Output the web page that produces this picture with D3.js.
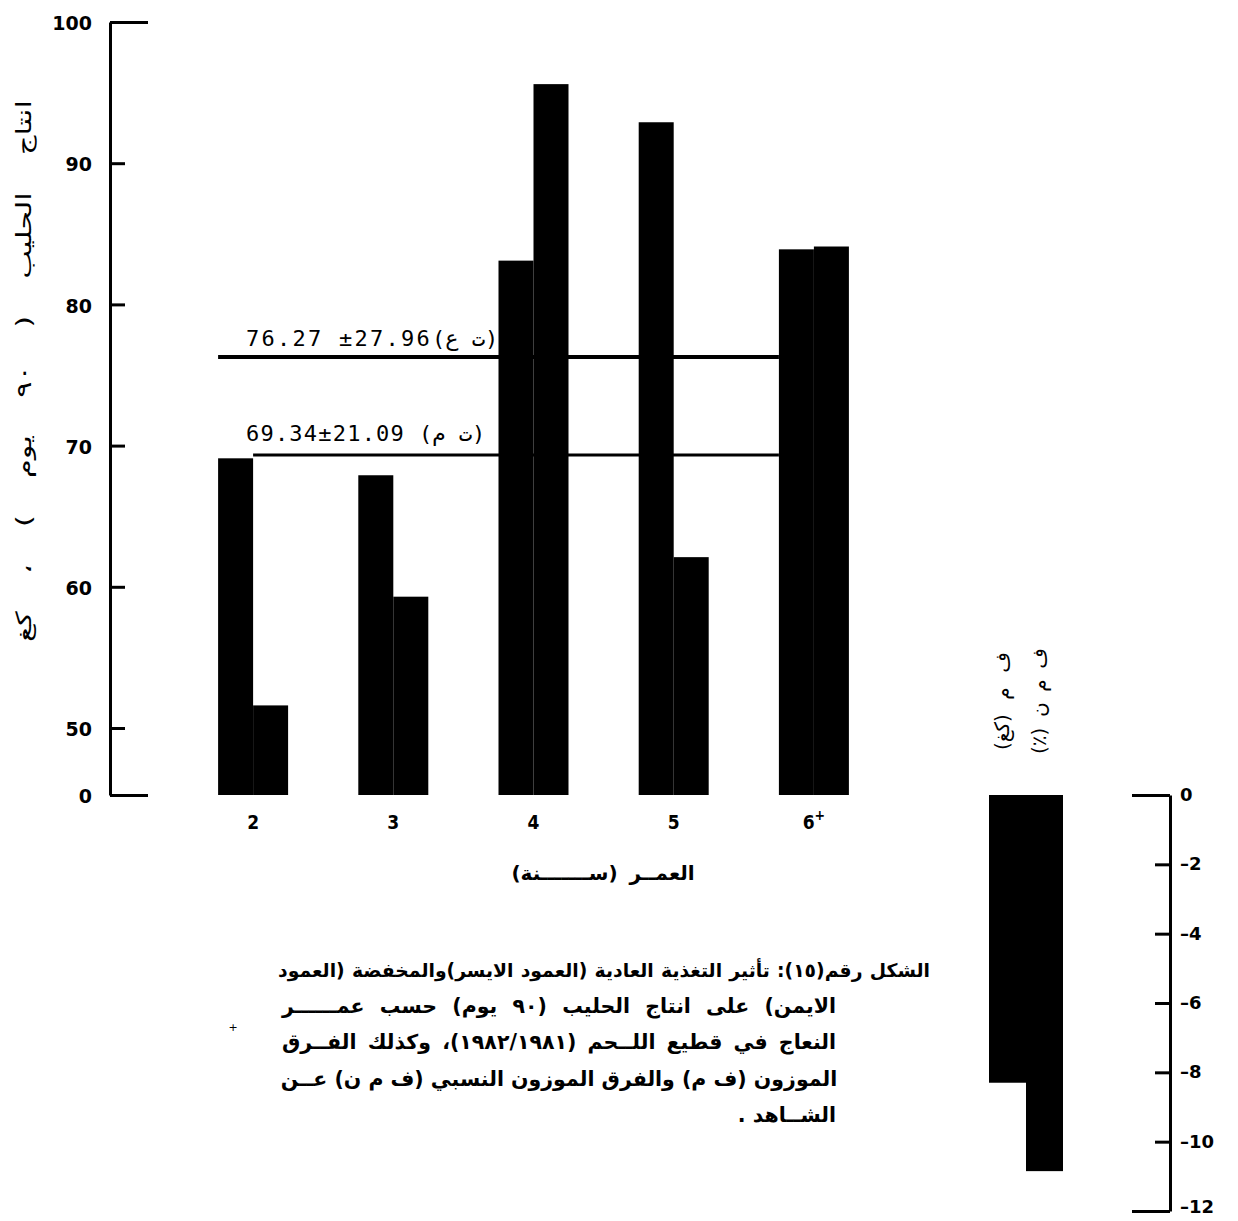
<!DOCTYPE html>
<html>
<head>
<meta charset="utf-8">
<script src="https://cdn.jsdelivr.net/npm/d3@7"></script>
<style>
  body { margin: 0; background: #fff; }
  svg { display: block; }
</style>
</head>
<body>
<svg id="chart" width="1238" height="1221"></svg>
<script>
// ---------------- DATA ----------------
const ages = ["2", "3", "4", "5", "6+"];
const normalFeed = [69.1, 67.9, 83.1, 92.9, 83.9];    // left bar of each pair
const reducedFeed = [51.6, 59.3, 95.6, 62.1, 84.1];   // right bar of each pair
const yTicks = [0, 50, 60, 70, 80, 90, 100];
const meanValues = [76.27, 69.34];
const meanNumbers = ["76.27 ±27.96", "69.34±21.09"];
const meanTags = ["(ت ع)", "(ت م)"];

const diffCategories = ["ف م  (كغ)", "ف م ن (٪)"];
const diffValues = [-8.3, -10.85];
const diffTicks = [0, -2, -4, -6, -8, -10, -12];

const yTitle = "انتاج الحليب ( ٩٠ يوم ) ، كغ";
const xTitle = "العمــر  (ســـــــنة)";
const captionLines = [
  "الشكل رقم(١٥): تأثير التغذية العادية (العمود الايسر)والمخفضة (العمود",
  "الايمن) على انتاج الحليب (٩٠ يوم) حسب عمــــــر",
  "النعاج في قطيع اللــحم (١٩٨٢/١٩٨١)، وكذلك الفــرق",
  "الموزون (ف م) والفرق الموزون النسبي (ف م ن) عــن",
  "الشــاهد ."
];

// ---------------- HELPERS ----------------
const svg = d3.select("#chart");
const arabicFont = "'DejaVu Sans', 'Noto Sans', sans-serif";

// place an RTL text centered in [left,right], stretching word spacing to fill
function fitRTL(sel, left, right, justify) {
  sel.attr("direction", "rtl").style("direction", "rtl").attr("text-anchor", "middle");
  const node = sel.node();
  const len = node.getComputedTextLength();
  const txt = sel.text();
  const spaces = (txt.match(/ /g) || []).length;
  if (justify && spaces > 0) {
    const ws = Math.max(0, (right - left - len) / spaces);
    sel.style("word-spacing", ws + "px");
    sel.attr("x", (left + right) / 2);
  } else {
    sel.attr("x", right - len / 2);
  }
}

// ---------------- LEFT CHART ----------------
const y = d3.scaleLinear().domain([0, 50, 100]).range([795, 728, 22]);
const x = d3.scaleBand().domain(ages).range([183, 884]);
const inner = d3.scaleBand().domain(["normal", "reduced"]).range([-35, 35]);
const series = [
  { key: "normal", values: normalFeed },
  { key: "reduced", values: reducedFeed }
];
const cx = a => x(a) + x.bandwidth() / 2;

// mean lines (drawn first, bars cover them)
const lineStart = [cx(ages[0]) + inner("normal"), cx(ages[0]) + inner("reduced")];
const lineEnd = cx(ages[4]) + inner("normal");
const lineWidth = [4, 3];
svg.append("g").selectAll("line")
  .data(meanValues)
  .join("line")
  .attr("x1", (d, i) => lineStart[i])
  .attr("x2", lineEnd)
  .attr("y1", d => y(d))
  .attr("y2", d => y(d))
  .attr("stroke", "#000")
  .attr("stroke-width", (d, i) => lineWidth[i]);

// mean labels: number part (monospace, spaced) + Arabic tag
const numEnd = [432, 405];
const tagStart = [432, 419];
const mg = svg.append("g").selectAll("g")
  .data(meanValues)
  .join("g");
mg.append("text")
  .attr("y", (d, i) => y(d) - (i === 0 ? 11 : 14))
  .style("font-family", "'DejaVu Sans Mono', 'Liberation Mono', monospace")
  .style("font-size", "22px")
  .text((d, i) => meanNumbers[i])
  .each(function (d, i) {
    const t = d3.select(this);
    const n = meanNumbers[i].length;
    const base = this.getComputedTextLength();
    const ls = (numEnd[i] - 246 - base) / n;
    t.style("letter-spacing", ls + "px").attr("x", 246);
  });
mg.append("text")
  .attr("x", (d, i) => tagStart[i])
  .attr("y", (d, i) => y(d) - (i === 0 ? 11 : 14))
  .style("font-family", "'DejaVu Sans Mono', 'DejaVu Sans', monospace")
  .style("font-size", "22px")
  .text((d, i) => meanTags[i]);

// bars
svg.append("g").selectAll("g")
  .data(series)
  .join("g")
  .selectAll("rect")
  .data(s => s.values.map((v, i) => ({ key: s.key, age: ages[i], v })))
  .join("rect")
  .attr("x", d => cx(d.age) + inner(d.key))
  .attr("width", inner.bandwidth())
  .attr("y", d => y(d.v))
  .attr("height", d => y(0) - y(d.v))
  .attr("fill", "#000");

// y axis (ticks pointing inward)
const gy = svg.append("g")
  .attr("transform", "translate(110,0)")
  .call(d3.axisLeft(y).tickValues(yTicks).tickSizeInner(-15).tickSizeOuter(0).tickPadding(18));
gy.select(".domain").attr("stroke-width", 3);
gy.selectAll(".tick line")
  .attr("stroke-width", 3)
  .attr("x2", d => (d === 0 || d === 100) ? 38 : 15);
gy.selectAll(".tick text")
  .attr("dy", "0.4em")
  .style("font-family", "'DejaVu Sans', sans-serif")
  .style("font-weight", "bold")
  .style("font-size", "19px")
  .attr("fill", "#000");

// x tick labels
const xl = svg.append("g").selectAll("text")
  .data(ages)
  .join("text")
  .attr("x", d => cx(d))
  .attr("y", 829)
  .attr("text-anchor", "middle")
  .style("font-family", "'DejaVu Sans Condensed', 'DejaVu Sans', sans-serif")
  .style("font-weight", "bold")
  .style("font-size", "19px");
xl.each(function (d) {
  const t = d3.select(this);
  if (d.endsWith("+")) {
    t.append("tspan").text(d.slice(0, -1));
    t.append("tspan").attr("dy", -9).style("font-size", "14px").text("+");
  } else {
    t.text(d);
  }
});

// y title (rotated, stretched along its baseline)
const yScaleX = 1.45;
const yt = svg.append("text")
  .attr("transform", `translate(31,0) rotate(-90) scale(${yScaleX},1)`)
  .attr("y", 0)
  .style("font-family", arabicFont)
  .style("font-size", "21px")
  .text(yTitle);
fitRTL(yt, -642 / yScaleX, -100 / yScaleX, true);

// x title
const xt = svg.append("text")
  .attr("y", 880)
  .style("font-family", arabicFont)
  .style("font-weight", "bold")
  .style("font-size", "20px")
  .text(xTitle);
fitRTL(xt, 509, 697, true);

// ---------------- CAPTION ----------------
const capLeft = [278, 282, 282, 282, 282];
const capRight = [930, 836, 836, 836, 836];
const capBase = [977, 1013, 1049, 1086, 1122];
const capSize = [18.8, 20.5, 20.5, 20.5, 20.5];
svg.append("g").selectAll("text")
  .data(captionLines)
  .join("text")
  .attr("y", (d, i) => capBase[i])
  .style("font-family", arabicFont)
  .style("font-weight", "bold")
  .style("font-size", (d, i) => capSize[i] + "px")
  .text(d => d)
  .each(function (d, i) {
    fitRTL(d3.select(this), capLeft[i], capRight[i], i < captionLines.length - 1);
  });

// small mark left of caption
svg.append("text").attr("x", 233).attr("y", 1031).attr("text-anchor", "middle")
  .style("font-size", "11px").style("font-family", "'DejaVu Sans', sans-serif").text("+");

// ---------------- RIGHT CHART ----------------
const yr = d3.scaleLinear().domain([0, -12]).range([795, 1211]);
const xr = d3.scaleBand().domain(diffCategories).range([989, 1063]);

svg.append("g").selectAll("rect")
  .data(diffValues)
  .join("rect")
  .attr("x", (d, i) => xr(diffCategories[i]))
  .attr("width", xr.bandwidth())
  .attr("y", yr(0))
  .attr("height", d => yr(d) - yr(0))
  .attr("fill", "#000");

const gr = svg.append("g")
  .attr("transform", "translate(1170,0)")
  .call(d3.axisRight(yr).tickValues(diffTicks).tickSizeInner(-15).tickSizeOuter(0).tickPadding(10)
    .tickFormat(d => d === 0 ? "0" : "–" + Math.abs(d)));
gr.select(".domain").attr("stroke-width", 3);
gr.selectAll(".tick line")
  .attr("stroke-width", 3)
  .attr("x2", d => (d === 0 || d === -12) ? -38 : -15);
gr.selectAll(".tick text")
  .attr("dy", d => d === -12 ? "0.1em" : "0.3em")
  .style("font-family", "'DejaVu Sans', sans-serif")
  .style("font-weight", "bold")
  .style("font-size", "18px")
  .attr("fill", "#000");

// rotated labels above the difference bars
svg.append("g").selectAll("text")
  .data(diffCategories)
  .join("text")
  .attr("transform", d => `translate(${xr(d) + xr.bandwidth() / 2 + 1},0) rotate(-90)`)
  .attr("y", 0)
  .style("font-family", arabicFont)
  .style("font-size", "20px")
  .text(d => d)
  .each(function () {
    fitRTL(d3.select(this), -754, -648, true);
  });
</script>
</body>
</html>
